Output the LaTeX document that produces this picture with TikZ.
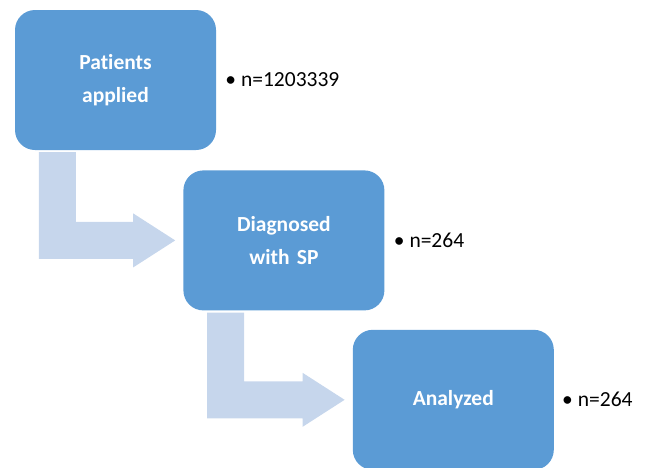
\documentclass[tikz,border=0pt]{standalone}
\usepackage{fontspec}
\setmainfont{Carlito}[Ligatures={NoCommon,NoRare}]
\usepackage{tikz}
\usetikzlibrary{calc}
\usetikzlibrary{positioning}
\definecolor{boxblue}{HTML}{5B9BD5}
\definecolor{flowblue}{HTML}{C6D6EC}

\begin{document}
\begin{tikzpicture}[x=1pt, y=1pt,
			stage/.style = {rectangle, fill=boxblue, rounded corners=20pt, minimum width=201pt, minimum height=140pt, text width=180pt, align=center, text=white, font=\fontsize{21.5}{33}\selectfont\bfseries},
			count/.style = {font=\fontsize{21.5}{26}\selectfont, anchor=west, inner sep=0pt},
			flow/.style  = {fill=flowblue}]
			
			\useasboundingbox (0,0) rectangle (645,-467);
			
			% the three stages, each one below right of the one before
			\node[stage] (pat) at (115.5,-80) {Patients\\applied};
			\node[stage, below right=20pt and -33pt of pat] (diag) {Diagnosed\\with SP};
			\node[stage, below right=19pt and -32pt of diag] (ana) {Analyzed};
			
			% the counts next to the stages
			\node[count, right=9pt of pat] (npat) {\textbullet\hspace{5pt}n=1203339};
			\node[count, right=9pt of diag] (ndiag) {\textbullet\hspace{5pt}n=264};
			\node[count, right=8pt of ana] (nana) {\textbullet\hspace{5pt}n=264};
			
			% bent block arrows from one stage to the next
			\foreach \from/\to in {pat/diag, diag/ana}
			\fill[flow] ($(\from.south west)+(24,-2)$) -- ($(\from.south west)+(61,-2)$)
				|- ($(\to.west)+(-50,18.5)$) -- ($(\to.west)+(-50,27)$)
				-- ($(\to.west)+(-8,0)$) -- ($(\to.west)+(-50,-27)$)
				-- ($(\to.west)+(-50,-18.5)$) -| ($(\from.south west)+(24,-2)$) -- cycle;
		\end{tikzpicture}
\end{document}
